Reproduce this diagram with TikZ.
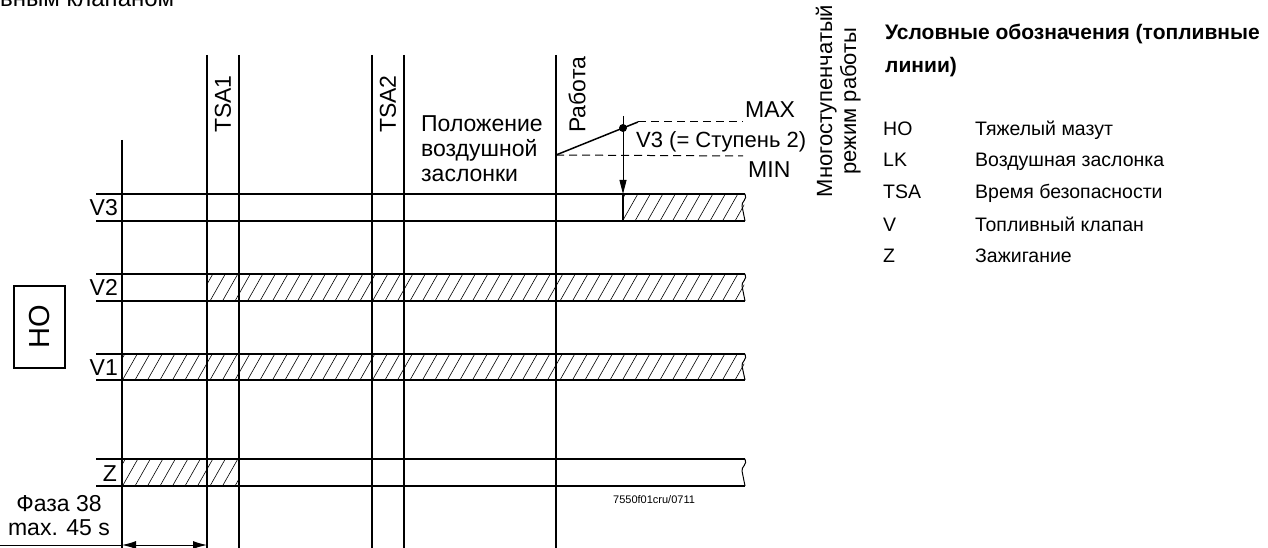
\documentclass[tikz,border=0pt]{standalone}
\usepackage{fontspec}
\setmainfont{Liberation Sans}
\usetikzlibrary{arrows.meta}
\newcommand\hatchbox[4]{%
  \begin{scope}
    \clip (#1,#3) rectangle (#2,#4);
    \foreach \k in {60,72.5,...,760} \draw[hatch] (\k,#4) -- ++(17,-30);
  \end{scope}}
\newcommand\rowbox[2]{%
  \draw[rowline] (96,#1) -- (745,#1);
  \draw[rowline] (96,#2) -- (745,#2);
  \draw[breakline] (745,#1) .. controls (748,#1+5) and (741,#1+8) .. (742,#1+12) -- (745,#2);}
\begin{document}
\begin{tikzpicture}[x=1pt,y=-1pt,
  rowline/.style={line width=1.8pt},
  breakline/.style={line width=1pt},
  vline/.style={line width=1.6pt},
  hatch/.style={line width=0.6pt},
  dashline/.style={line width=1pt, dash pattern=on 8pt off 5pt},
  lbl/.style={font=\fontsize{23}{24}\selectfont, inner sep=0pt},
  lbls/.style={font=\fontsize{22}{24}\selectfont, inner sep=0pt},
  leg/.style={font=\fontsize{19.5}{22}\selectfont, inner sep=0pt, anchor=base west},
  legt/.style={font=\fontsize{21}{22}\selectfont\bfseries, inner sep=0pt, anchor=base west}]
\useasboundingbox (0,0) rectangle (1268,548);

% cut-off heading
\node[font=\fontsize{24}{26}\selectfont, inner sep=0pt, anchor=base west] (head) at (0,6.5) {вным клапаном};

% hatching
\hatchbox{623}{744}{194}{221}
\hatchbox{207}{744}{274}{301}
\hatchbox{122}{744}{354}{380}
\hatchbox{122}{239}{459}{486}

% rows
\rowbox{194}{221}
\rowbox{274}{301}
\rowbox{354}{380}
\rowbox{459}{486}

% vertical lines
\coordinate (t0) at (122,140); \coordinate (b0) at (122,548);
\coordinate (t1) at (207,55);  \coordinate (b1) at (207,548);
\coordinate (t2) at (239,55);  \coordinate (b2) at (239,548);
\coordinate (t3) at (372,55);  \coordinate (b3) at (372,548);
\coordinate (t4) at (404,55);  \coordinate (b4) at (404,548);
\coordinate (t5) at (556,55);  \coordinate (b5) at (556,548);
\foreach \i in {0,...,5} \draw[vline] (t\i) -- (b\i);
\draw[vline] (623,194) -- (623,221);

% row labels
\node[lbl, anchor=base east] (lv3) at (118,215) {V3};
\node[lbl, anchor=base east] (lv2) at (118,295) {V2};
\node[lbl, anchor=base east] (lv1) at (118,375) {V1};
\node[lbl, anchor=base east] (lz)  at (117,481) {Z};

% vertical labels
\node[lbl, rotate=90, anchor=west] (tsa1) at (223,133) {TSA1};
\node[lbl, rotate=90, anchor=west] (tsa2) at (388,133) {TSA2};
\node[lbl, rotate=90, anchor=west] (rab) at (577,133) {Работа};

% damper text
\node[lbl, anchor=base west] (p1) at (421,132) {Положение};
\node[lbl, anchor=base west] (p2) at (421,157) {воздушной};
\node[lbl, anchor=base west] (p3) at (421,182) {заслонки};

% damper graph
\coordinate (ld0) at (556,155);
\coordinate (dot) at (623,128);
\coordinate (ld1) at (638,122);
\coordinate (mx) at (743,122);
\coordinate (mn) at (743,156);
\draw[line width=1.5pt] (ld0) -- (dot) -- (ld1);
\draw[dashline] (ld1) -- (mx);
\draw[dashline] (ld0) -- (mn);
\fill (dot) circle (4);
\coordinate (atop) at (623,116);
\coordinate (abot) at (623,194);
\draw[line width=0.9pt, -{Triangle[length=14pt,width=7pt]}] (atop) -- (abot);
\node[lbl, anchor=base west] (max) at (745,118) {MAX};
\node[lbl, anchor=base west] (min) at (748,178) {MIN};
\node[lbls, anchor=base west] (v3s) at (636,148) {V3 (= Ступень 2)};

% rotated multi-step label
\node[lbls, rotate=90, align=center, anchor=south] (multi) at (861,101)
  {Многоступенчатый\\режим работы};

% HO box
\node[draw, line width=1.5pt, minimum width=51pt, minimum height=82pt, inner sep=0pt] (hobox) at (39.5,327) {};
\node[font=\fontsize{29}{30}\selectfont, rotate=90, inner sep=0pt] (ho) at (hobox.center) {HO};

% phase text and dimension
\node[lbl, anchor=base] (ph1) at (59,511) {Фаза 38};
\node[lbl, anchor=base] (ph2) at (59,535) {max. 45 s};
\coordinate (d0) at (0,545);
\coordinate (d1) at (122,545);
\coordinate (d2) at (207,545);
\draw[line width=1pt] (d0) -- (d1);
\draw[line width=1pt, {Latex[length=14pt,width=8pt]}-{Latex[length=14pt,width=8pt]}] (d1) -- (d2);

% code
\node[font=\fontsize{11}{12}\selectfont, inner sep=0pt, anchor=base west] (code) at (613,503) {7550f01cru/0711};

% legend
\node[legt] (lt1) at (885,40) {Условные обозначения (топливные};
\node[legt] (lt2) at (885,73) {линии)};
\node[leg] (k1) at (883,136) {HO};
\node[leg] (k2) at (883,167) {LK};
\node[leg] (k3) at (883,198) {TSA};
\node[leg] (k4) at (883,231) {V};
\node[leg] (k5) at (883,262) {Z};
\node[leg] (e1) at (975,136) {Тяжелый мазут};
\node[leg] (e2) at (975,167) {Воздушная заслонка};
\node[leg] (e3) at (975,198) {Время безопасности};
\node[leg] (e4) at (975,231) {Топливный клапан};
\node[leg] (e5) at (975,262) {Зажигание};
\end{tikzpicture}
\end{document}
